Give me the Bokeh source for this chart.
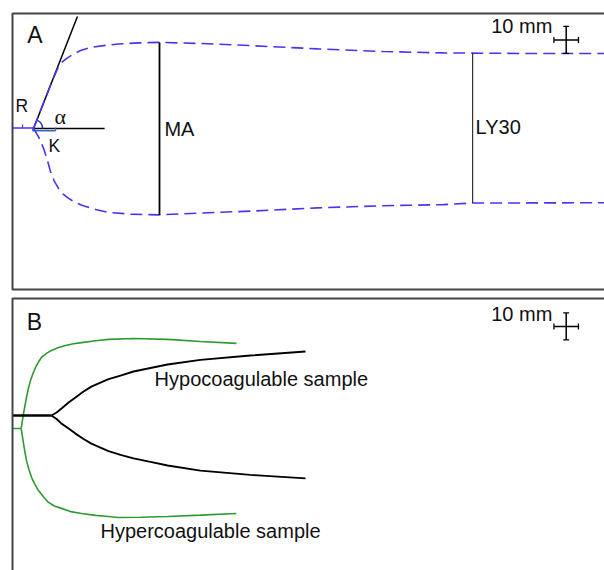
import numpy as np
from bokeh.plotting import figure
from bokeh.layouts import column
from bokeh.models import BoxAnnotation
from bokeh.core.properties import value
from bokeh.embed import file_html
from bokeh.resources import INLINE

# ---------------- Panel A: normal TEG tracing (x: chart length mm, y: amplitude mm)
a_upper_x = [8.6, 13.5, 16.3, 18.4, 20.0, 22.0, 24.5, 27.8, 31.8, 37.1, 43.3, 51.4, 59.6,
             76.7, 97.1, 124.5, 151.4, 175.9, 207.4, 241.6]
a_upper_y = [0.0, 11.5, 17.8, 22.2, 24.4, 25.9, 27.4, 28.9, 30.0, 30.7, 31.3, 31.7, 31.9,
             31.5, 30.7, 29.5, 28.5, 28.0, 27.8, 27.8]
a_lower_x = [8.6, 10.6, 12.7, 14.3, 15.5, 17.1, 18.8, 20.8, 22.9, 25.7, 28.6, 33.9, 39.2,
             48.2, 59.6, 76.7, 97.1, 124.5, 151.4, 175.9, 187.8, 241.6]
a_lower_y = [0.0, -3.0, -7.4, -11.9, -15.9, -19.6, -22.2, -24.4, -25.9, -27.4, -28.5, -30.0,
             -31.1, -31.7, -32.0, -31.3, -30.6, -29.4, -28.6, -28.2, -27.6, -27.5]
r_x = [0.0, 8.6]
r_y = 0.2
r_tick_x = 4.1
k_x = [8.2, 17.6]
k_y = -0.8
ma_x = 60.0
ma_top, ma_bottom = 31.9, -32.0
ly30_x = 187.8
ly30_top, ly30_bottom = 28.0, -27.6
tangent_x = [8.6, 26.5]
tangent_y = [0.0, 41.5]
alpha_ref_x = [8.6, 37.6]
alpha_deg = 68.5

# ---------------- Panel B: hypo / hyper coagulable samples
hypo_base_x = [0.0, 15.9]
hypo_x = [15.9, 18.0, 20.0, 22.9, 25.7, 29.0, 32.2, 35.9, 39.2, 44.1, 49.4, 56.3, 63.3,
          76.7, 97.1, 119.6]
hypo_upper_y = [0.0, 1.1, 2.6, 4.8, 6.7, 8.9, 10.7, 12.2, 13.5, 14.8, 16.3, 17.6, 18.9,
                20.6, 22.2, 23.7]
hypo_lower_y = [0.0, -1.3, -3.0, -4.8, -6.7, -8.7, -10.4, -11.9, -13.2, -14.6, -15.9, -17.2,
                -18.5, -20.4, -22.0, -23.3]
hyper_base_x = [0.0, 3.55]
hyper_base_y = -4.8
hyper_upper_x = [3.55, 3.9, 4.5, 5.1, 5.7, 6.5, 7.35, 8.4, 9.4, 10.6, 11.8, 13.9, 15.9, 18.8,
                 21.6, 24.9, 28.2, 33.9, 39.2, 49.4, 63.3, 76.7, 91.4]
hyper_upper_y = [-4.8, -2.6, 0.7, 3.7, 6.7, 10.0, 13.0, 15.6, 17.8, 19.8, 21.5, 23.0, 24.1,
                 25.2, 25.9, 26.6, 27.0, 27.7, 28.2, 28.5, 28.2, 27.4, 26.7]
hyper_lower_x = [3.55, 3.9, 4.5, 5.1, 5.7, 6.7, 7.8, 9.2, 10.6, 12.7, 14.7, 17.1, 20.0, 23.7,
                 28.2, 33.9, 39.2, 42.9, 52.2, 63.3, 76.7, 91.4]
hyper_lower_y = [-4.8, -7.0, -10.4, -13.7, -16.7, -20.0, -23.0, -25.6, -27.8, -30.2, -32.2,
                 -33.5, -34.4, -35.6, -36.3, -37.0, -37.4, -37.8, -37.7, -37.4, -36.9, -36.3]

# scale bar (10 mm both ways)
scale_len = 10.0
scale_x = 226.0
scale_y_a = 32.8
scale_y_b = 33.0

FONT = value("Liberation Sans")
BLUE = "#4b32f0"
GREEN = "#2f9a2f"
FRAME = "#444444"


def make_fig(h, xr, yr):
    p = figure(width=604, height=h, x_range=xr, y_range=yr, output_backend="svg",
               toolbar_location=None, x_axis_location=None, y_axis_location=None,
               min_border=0, tools="")
    p.grid.visible = False
    p.outline_line_color = None
    return p


def label(p, x, y, txt, size, font=FONT):
    p.text(x=[x], y=[y], text=[txt], text_font=font, text_font_size=value(size),
           text_color="#111111", text_align="left", text_baseline="alphabetic")


def scale_bar(p, cx, cy):
    h = scale_len / 2
    p.segment(x0=[cx - h, cx], y0=[cy, cy - h], x1=[cx + h, cx], y1=[cy, cy + h],
              line_color="black", line_width=1.5)
    cap_x, cap_y = 1.2, 1.1
    p.segment(x0=[cx - cap_x, cx - cap_x, cx - h, cx + h],
              y0=[cy + h, cy - h, cy - cap_y, cy - cap_y],
              x1=[cx + cap_x, cx + cap_x, cx - h, cx + h],
              y1=[cy + h, cy - h, cy + cap_y, cy + cap_y],
              line_color="black", line_width=1.3)


XR = (-4.898, 241.633)

# ---------------- Figure A
pa = make_fig(291, XR, (-60.37, 47.41))
pa.add_layout(BoxAnnotation(left=0, right=300, top=42.59, bottom=-59.63,
                            fill_color=None, line_color=FRAME, line_alpha=1.0, line_width=2))

# tangent and reference line for alpha
pa.line(tangent_x, tangent_y, line_color="black", line_width=1.5)
pa.line(alpha_ref_x, [0, 0], line_color="black", line_width=1.5)
pa.arc(x=[tangent_x[0]], y=[0], radius=9, radius_units="screen", start_angle=0,
       end_angle=np.deg2rad(alpha_deg), line_color="#2a36b8", line_width=1.5)

# R and K brackets
pa.line(r_x, [r_y, r_y], line_color=BLUE, line_width=1.6)
pa.segment(x0=[r_tick_x], y0=[r_y], x1=[r_tick_x], y1=[r_y + 1.3], line_color=BLUE, line_width=1.2)
pa.line(k_x, [k_y, k_y], line_color="#3366cc", line_width=1.5)
pa.segment(x0=k_x, y0=[k_y, k_y], x1=k_x, y1=[k_y + 1.2, k_y + 1.2], line_color="#3366cc", line_width=1.2)

# TEG envelope
pa.line(a_upper_x, a_upper_y, line_color=BLUE, line_width=1.6, line_dash="12 6")
pa.line(a_lower_x, a_lower_y, line_color=BLUE, line_width=1.6, line_dash="12 6")

# MA and LY30
pa.segment(x0=[ma_x], y0=[ma_bottom], x1=[ma_x], y1=[ma_top], line_color="black", line_width=1.8)
pa.segment(x0=[ly30_x], y0=[ly30_bottom], x1=[ly30_x], y1=[ly30_top], line_color="#333333", line_width=1.2)

label(pa, 6.0, 34.8, "A", "23px")
label(pa, 1.2, 8.2, "R", "17.5px")
label(pa, 17.1, 4.6, "α", "22px", value("Liberation Serif"))
label(pa, 14.7, -6.5, "K", "17.5px")
label(pa, 62.0, -0.2, "MA", "20px")
label(pa, 189.0, 0.4, "LY30", "20px")
label(pa, 195.4, 37.9, "10 mm", "20px")
scale_bar(pa, scale_x, scale_y_a)

# ---------------- Figure B
pb = make_fig(279, XR, (-57.41, 45.93))
pb.add_layout(BoxAnnotation(left=0, right=300, top=43.33, bottom=-80,
                            fill_color=None, line_color=FRAME, line_alpha=1.0, line_width=2))

pb.line(hyper_base_x, [hyper_base_y, hyper_base_y], line_color=GREEN, line_width=1.6)
pb.line(hyper_upper_x, hyper_upper_y, line_color=GREEN, line_width=1.6)
pb.line(hyper_lower_x, hyper_lower_y, line_color=GREEN, line_width=1.6)

pb.line(hypo_base_x, [0, 0], line_color="black", line_width=2.4)
pb.line(hypo_x, hypo_upper_y, line_color="black", line_width=1.9)
pb.line(hypo_x, hypo_lower_y, line_color="black", line_width=1.9)

label(pb, 5.8, 34.6, "B", "23px")
label(pb, 58.0, 13.7, "Hypocoagulable sample", "20px")
label(pb, 35.9, -42.9, "Hypercoagulable sample", "20px")
label(pb, 195.4, 37.6, "10 mm", "20px")
scale_bar(pb, scale_x, scale_y_b)

layout = column(pa, pb, spacing=0)
open("out.html", "w").write(file_html(layout, INLINE))
